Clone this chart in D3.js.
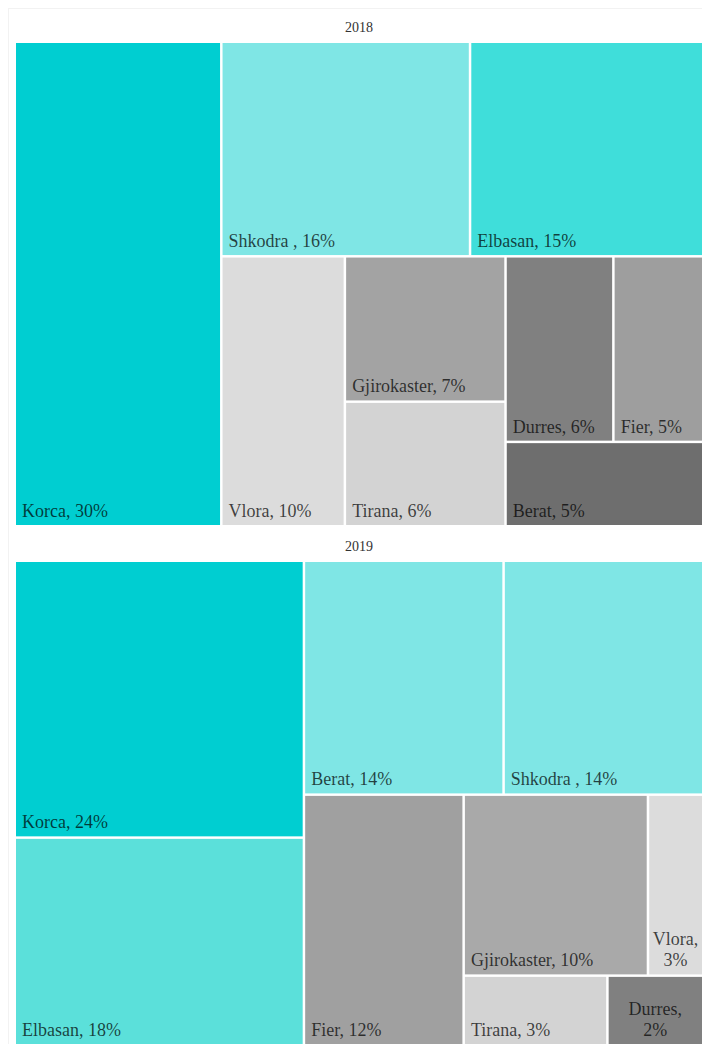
<!DOCTYPE html>
<html>
<head>
<meta charset="utf-8">
<script src="https://cdn.jsdelivr.net/npm/d3@7"></script>
<style>
  html, body { margin: 0; padding: 0; background: #fff; }
  svg { display: block; }
  svg text { font-family: "Liberation Serif", "Times New Roman", Tinos, serif; }
</style>
</head>
<body>
<svg id="chart" width="702" height="1044"></svg>
<script>
// ---- data ----
const years = ["2018", "2019"];

const regions2018 = ["Korca", "Shkodra ", "Elbasan", "Vlora", "Gjirokaster", "Tirana", "Durres", "Fier", "Berat"];
const shares2018  = [30, 16, 15, 10, 7, 6, 6, 5, 5];
// grouping of the tiles (indices into the arrays above)
const groups2018  = [0, [[1, 2], [3, [4, 5], [[6, 7], 8]]]];

const regions2019 = ["Korca", "Elbasan", "Berat", "Shkodra ", "Fier", "Gjirokaster", "Vlora", "Tirana", "Durres"];
const shares2019  = [24, 18, 14, 14, 12, 10, 3, 3, 2];
const groups2019  = [[0, 1], [[2, 3], [4, [[5, 6], [7, 8]]]]];

// ---- styles ----
const colors2018 = ["#00CED1", "#7FE6E5", "#3FDEDA", "#DCDCDC", "#A3A3A3", "#D3D3D3", "#808080", "#9E9E9E", "#6E6E6E"];
const colors2019 = ["#00CED1", "#5BE0DA", "#7FE6E5", "#7FE6E5", "#A0A0A0", "#A9A9A9", "#DCDCDC", "#D3D3D3", "#808080"];

const W = 702, H = 1044;
const svg = d3.select("#chart");

// faint outer frame
svg.append("rect").attr("x", 8.5).attr("y", 8.5).attr("width", W).attr("height", H)
  .attr("fill", "none").attr("stroke", "#f2f2f2").attr("stroke-width", 1);

const panels = [
  { year: years[0], regions: regions2018, shares: shares2018, groups: groups2018, colors: colors2018, top: 43, titleY: 32 },
  { year: years[1], regions: regions2019, shares: shares2019, groups: groups2019, colors: colors2019, top: 562, titleY: 551 }
];

const left = 16, tmW = 686, tmH = 482;

function toNode(g) {
  return Array.isArray(g) ? { children: g.map(toNode) } : { i: g };
}

panels.forEach(p => {
  svg.append("text")
    .attr("x", left + tmW / 2)
    .attr("y", p.titleY)
    .attr("text-anchor", "middle")
    .attr("font-size", 14)
    .attr("fill", "#333")
    .text(p.year);

  const root = d3.hierarchy(toNode(p.groups))
    .sum(d => d.i !== undefined ? p.shares[d.i] : 0);

  d3.treemap()
    .tile(d3.treemapSliceDice)
    .size([tmW, tmH])
    .paddingInner(2.5)
    .round(false)(root);

  const g = svg.append("g").attr("transform", `translate(${left},${p.top})`);

  const cell = g.selectAll("g.cell")
    .data(root.leaves())
    .join("g")
    .attr("class", "cell");

  cell.append("rect")
    .attr("x", d => d.x0)
    .attr("y", d => d.y0)
    .attr("width", d => d.x1 - d.x0)
    .attr("height", d => d.y1 - d.y0)
    .attr("fill", d => p.colors[d.data.i]);

  cell.each(function (d) {
    const label = p.regions[d.data.i] + ", " + p.shares[d.data.i] + "%";
    const t = d3.select(this).append("text")
      .attr("font-size", 18)
      .attr("fill", "#000")
      .attr("fill-opacity", 0.72)
      .attr("x", d.x0 + 6)
      .attr("y", d.y1 - 8)
      .text(label);
    const w = d.x1 - d.x0;
    if (t.node().getComputedTextLength() > w - 20) {
      const words = label.split(/\s+/).filter(s => s.length);
      t.text(null)
        .attr("text-anchor", "middle")
        .attr("x", null).attr("y", null);
      const lh = 21;
      const cx = (d.x0 + d.x1) / 2;
      words.forEach((wd, k) => {
        t.append("tspan")
          .attr("x", cx)
          .attr("y", d.y1 - 8 - (words.length - 1 - k) * lh)
          .text(wd);
      });
    }
  });
});
</script>
</body>
</html>
